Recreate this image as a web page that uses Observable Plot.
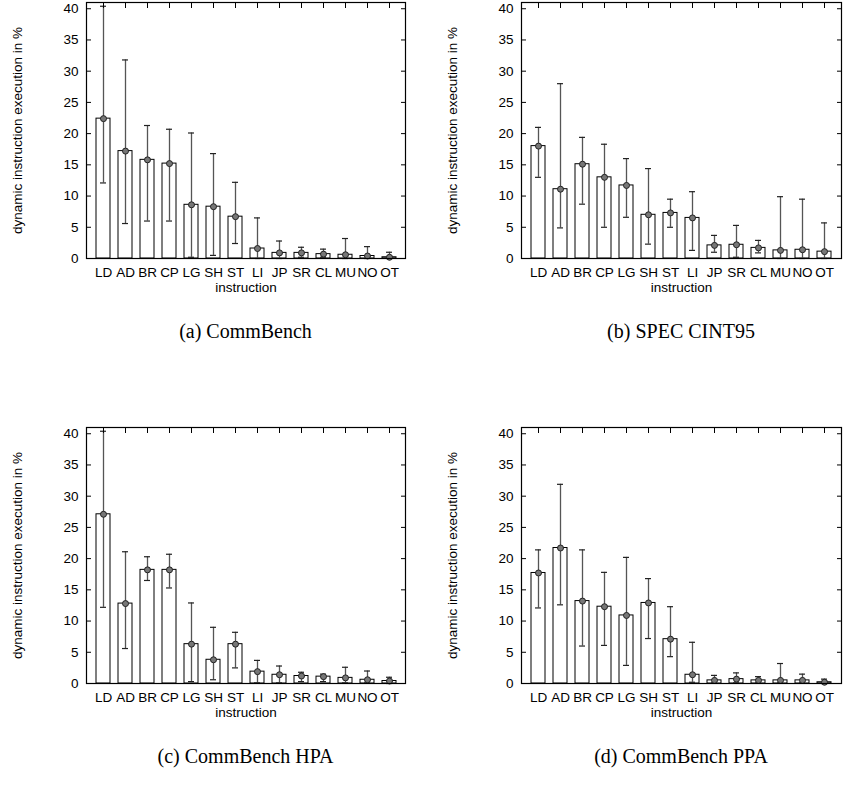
<!DOCTYPE html>
<html><head><meta charset="utf-8">
<script src="https://cdn.jsdelivr.net/npm/d3@7"></script>
<script src="https://cdn.jsdelivr.net/npm/@observablehq/plot@0.6"></script>
<style>
body{margin:0;background:#fff;}
#root{position:relative;width:843px;height:792px;overflow:hidden;}
.panel{position:absolute;}
.cap{position:absolute;font-family:"Liberation Serif","DejaVu Serif",serif;font-size:20px;line-height:24px;text-align:center;width:300px;color:#000;}
</style></head><body><div id="root"></div>
<script>
const instructions = ["LD","AD","BR","CP","LG","SH","ST","LI","JP","SR","CL","MU","NO","OT"];
const yTicks = [0,5,10,15,20,25,30,35,40];

const commBenchMean = [22.4,17.2,15.8,15.2,8.6,8.3,6.7,1.6,0.9,0.9,0.7,0.6,0.4,0.2];
const commBenchLow  = [12.1,5.6,6.0,6.0,0.2,0.5,2.4,0.0,0.0,0.2,0.2,0.0,0.0,0.0];
const commBenchHigh = [40.4,31.8,21.3,20.7,20.1,16.8,12.2,6.5,2.8,1.8,1.5,3.2,1.9,1.0];

const specMean = [18.0,11.1,15.1,13.0,11.7,7.0,7.3,6.5,2.1,2.2,1.7,1.3,1.4,1.1];
const specLow  = [13.0,4.9,8.7,5.0,6.6,2.3,5.0,1.3,1.0,0.2,0.9,0.0,0.0,0.0];
const specHigh = [21.0,28.0,19.4,18.3,16.0,14.4,9.5,10.7,3.7,5.3,2.9,9.9,9.5,5.7];

const hpaMean = [27.1,12.8,18.2,18.2,6.3,3.8,6.3,1.9,1.4,1.2,1.1,0.9,0.6,0.4];
const hpaLow  = [12.2,5.6,16.5,15.3,0.3,0.6,2.5,0.1,0.1,0.3,0.3,0.1,0.1,0.0];
const hpaHigh = [40.4,21.1,20.3,20.7,12.9,9.0,8.2,3.7,2.8,1.8,1.5,2.6,2.0,1.0];

const ppaMean = [17.7,21.7,13.2,12.3,10.9,12.9,7.1,1.4,0.5,0.7,0.5,0.5,0.5,0.2];
const ppaLow  = [12.1,12.6,6.0,6.1,2.9,7.2,4.3,0.2,0.1,0.1,0.1,0.1,0.1,0.0];
const ppaHigh = [21.4,31.9,21.4,17.8,20.2,16.8,12.3,6.6,1.3,1.7,1.1,3.2,1.5,0.7];

const captions = ["(a) CommBench","(b) SPEC CINT95","(c) CommBench HPA","(d) CommBench PPA"];

function panel(mean, low, high, width, marginLeft, marginRight) {
  const data = instructions.map((k, i) => ({k, v: mean[i], lo: low[i], hi: high[i]}));
  return Plot.plot({
    width, height: 300,
    marginLeft, marginRight, marginTop: 2, marginBottom: 42,
    style: {fontFamily: "'Liberation Sans', Arial, sans-serif", fontSize: "13.5px", color: "#000", background: "#fff"},
    x: {domain: instructions, paddingInner: 0.37, paddingOuter: 0.185},
    y: {domain: [0, 41]},
    marks: [
      Plot.barY(data, {x: "k", y: "v", fill: "white", stroke: "black", strokeWidth: 1}),
      Plot.ruleX(data, {x: "k", y1: "lo", y2: "hi", stroke: "#555", strokeWidth: 1.3}),
      Plot.tickY(data, {x: "k", y: "lo", stroke: "#222", strokeWidth: 1.2, insetLeft: 4, insetRight: 4}),
      Plot.tickY(data, {x: "k", y: "hi", stroke: "#222", strokeWidth: 1.2, insetLeft: 4, insetRight: 4}),
      Plot.dot(data, {x: "k", y: "v", r: 3, fill: "#777", stroke: "#222", strokeWidth: 1}),
      Plot.axisY({ticks: yTicks, anchor: "left", tickSize: 0, tickPadding: 8,
        label: "dynamic instruction execution in %", labelAnchor: "center", labelArrow: "none", labelOffset: 74}),
      Plot.axisY({ticks: yTicks, anchor: "left", tickSize: 5, dx: 5, tickFormat: () => "", label: null}),
      Plot.axisY({ticks: yTicks, anchor: "right", tickSize: 5, dx: -5, tickFormat: () => "", label: null}),
      Plot.axisX({anchor: "bottom", tickSize: 0, tickPadding: 9, label: "instruction", labelAnchor: "center", labelArrow: "none", labelOffset: 33}),
      Plot.axisX({anchor: "top", tickSize: 5, dy: 5, tickFormat: () => "", label: null}),
      Plot.frame({stroke: "black", strokeWidth: 1.2})
    ]
  });
}

const root = document.getElementById("root");
const layout = [
  {mean: commBenchMean, low: commBenchLow, high: commBenchHigh, left: 0, top: 0, width: 421, ml: 86, mr: 16},
  {mean: specMean, low: specLow, high: specHigh, left: 421, top: 0, width: 422, ml: 100, mr: 2},
  {mean: hpaMean, low: hpaLow, high: hpaHigh, left: 0, top: 425, width: 421, ml: 86, mr: 16},
  {mean: ppaMean, low: ppaLow, high: ppaHigh, left: 421, top: 425, width: 422, ml: 100, mr: 2}
];
layout.forEach((p, i) => {
  const div = document.createElement("div");
  div.className = "panel";
  div.style.left = p.left + "px";
  div.style.top = p.top + "px";
  div.appendChild(panel(p.mean, p.low, p.high, p.width, p.ml, p.mr));
  root.appendChild(div);
  const cap = document.createElement("div");
  cap.className = "cap";
  cap.textContent = captions[i];
  const cx = p.left + p.ml + (p.width - p.ml - p.mr) / 2;
  cap.style.left = (cx - 150) + "px";
  cap.style.top = (p.top + 319) + "px";
  root.appendChild(cap);
});
</script>
</body></html>
